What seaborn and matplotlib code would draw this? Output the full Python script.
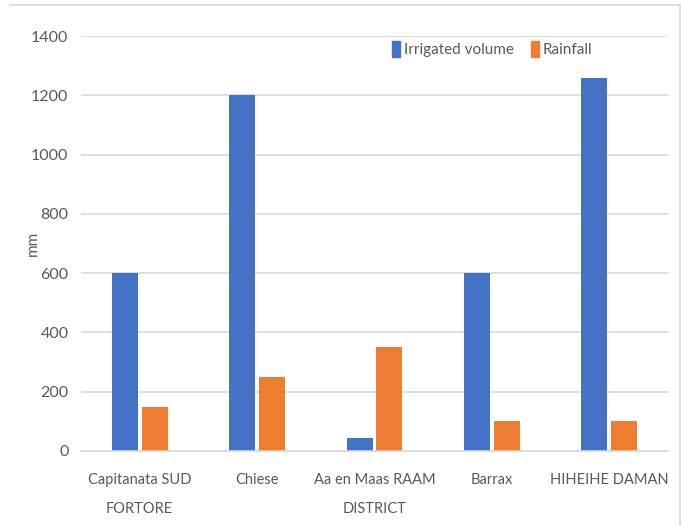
import matplotlib
matplotlib.use("Agg")
import matplotlib.pyplot as plt
from matplotlib.patches import Rectangle
from matplotlib.lines import Line2D
import seaborn as sns
import pandas as pd

sites = ["Capitanata SUD\nFORTORE", "Chiese", "Aa en Maas RAAM\nDISTRICT", "Barrax", "HIHEIHE DAMAN"]
irrigated_volume = [600, 1200, 45, 600, 1260]
rainfall = [150, 250, 350, 100, 100]
series_names = ["Irrigated volume", "Rainfall"]
y_ticks = [0, 200, 400, 600, 800, 1000, 1200, 1400]

BLUE = "#4472C4"
ORANGE = "#ED7D31"
TEXT = "#595959"
GRID = "#D9D9D9"

sns.set_theme(style="white")
plt.rcParams["font.family"] = ["Lato", "DejaVu Sans"]

df = pd.DataFrame({
    "site": sites * 2,
    "value": irrigated_volume + rainfall,
    "series": [series_names[0]] * len(sites) + [series_names[1]] * len(sites),
})

fig = plt.figure(figsize=(6.81, 5.26), dpi=100)
ax = fig.add_axes([81 / 681, 1 - 451 / 526, (668 - 81) / 681, (451 - 36) / 526])

sns.barplot(data=df, x="site", y="value", hue="series", order=sites,
            hue_order=series_names, palette=[BLUE, ORANGE],
            width=0.51, gap=0.13, ax=ax, legend=False, saturation=1,
            linewidth=0, errorbar=None, zorder=3)

ax.set_xlim(-0.5, len(sites) - 0.5)
ax.set_ylim(0, 1400)
ax.set_yticks(y_ticks)
ax.set_yticklabels([str(t) for t in y_ticks])
ax.yaxis.grid(True, color=GRID, linewidth=1.2, zorder=0)
ax.xaxis.grid(False)
for side in ["top", "right", "left"]:
    ax.spines[side].set_visible(False)
ax.spines["bottom"].set_color(GRID)
ax.spines["bottom"].set_linewidth(1.2)
ax.spines["bottom"].set_zorder(4)

ax.tick_params(axis="y", length=0, pad=9, labelsize=11.5, labelcolor=TEXT)
ax.tick_params(axis="x", length=0, pad=16, labelsize=10.5, labelcolor=TEXT)
for lbl in ax.get_xticklabels():
    lbl.set_linespacing(2.3)
ax.set_xlabel("")
ax.set_ylabel("")

# axis title, centred on the plot height left of the tick labels
fig.text(33 / 681, 1 - 243 / 526, "mm", rotation=90, ha="center", va="center",
         color=TEXT, fontsize=11)

# legend placed across the top of the plot area
handles = [Rectangle((0, 0), 1, 1, color=BLUE), Rectangle((0, 0), 1, 1, color=ORANGE)]
ax.legend(handles, series_names, loc="center left",
          bbox_to_anchor=(392 / 681, 1 - 49 / 526), bbox_transform=fig.transFigure,
          ncol=2, frameon=False, fontsize=11, labelcolor=TEXT,
          handlelength=0.5, handleheight=1.2, handletextpad=0.3,
          columnspacing=1.1, borderaxespad=0, borderpad=0)

# thin chart frame on top and right
fig.add_artist(Line2D([10 / 681, 680 / 681], [1 - 5 / 526, 1 - 5 / 526],
                      transform=fig.transFigure, color=GRID, linewidth=1.2))
fig.add_artist(Line2D([680 / 681, 680 / 681], [0, 1 - 5 / 526],
                      transform=fig.transFigure, color=GRID, linewidth=1.2))

fig.savefig("out.png", dpi=100)
